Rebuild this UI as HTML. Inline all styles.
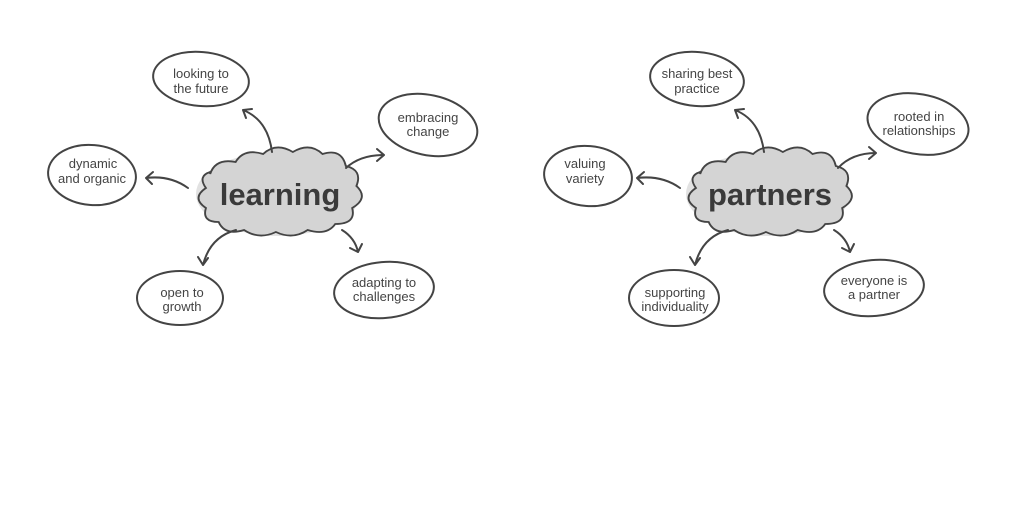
<!DOCTYPE html>
<html><head><style>
body{margin:0;background:#fff;}
svg{display:block}
text{font-family:"Liberation Sans",sans-serif;fill:#444;text-anchor:middle}
.s{font-size:13px}
.b{font-size:31px;font-weight:bold;fill:#3a3a3a}
.e{fill:none;stroke:#444;stroke-width:2}
.a{fill:none;stroke:#444;stroke-width:2;stroke-linecap:round;stroke-linejoin:round}
.c{fill:#d4d4d4;stroke:#444;stroke-width:1.8}
</style></head><body>
<svg width="1024" height="514" viewBox="0 0 1024 514">
<defs>
<g id="cloud">
<ellipse cx="0" cy="0" rx="82" ry="42" fill="#e2e2e2"/>
<path class="c" transform="scale(1.06,1)" d="M-64,-20 q5,-16 24,-12 q8,-14 26,-8 q12,-12 28,-2 q16,-10 28,2 q18,-6 22,12 q16,4 10,20 q12,12 -4,22 q4,16 -16,16 q-8,12 -26,6 q-14,10 -30,2 q-16,8 -30,-2 q-18,6 -24,-8 q-16,0 -12,-14 q-14,-10 0,-20 q-8,-12 4,-16z"/>
</g>
</defs>
<!-- left -->
<use href="#cloud" x="278" y="194"/>
<text class="b" x="280" y="205">learning</text>
<ellipse class="e" cx="201" cy="79" rx="48" ry="27" transform="rotate(5 201 79)"/>
<text class="s" x="201" y="78">looking to</text><text class="s" x="201" y="93">the future</text>
<ellipse class="e" cx="428" cy="125" rx="50" ry="30" transform="rotate(12 428 125)"/>
<text class="s" x="428" y="122">embracing</text><text class="s" x="428" y="136">change</text>
<ellipse class="e" cx="92" cy="175" rx="44" ry="30" transform="rotate(5 92 175)"/>
<text class="s" x="93" y="168">dynamic</text><text class="s" x="92" y="183">and organic</text>
<ellipse class="e" cx="180" cy="298" rx="43" ry="27"/>
<text class="s" x="182" y="297">open to</text><text class="s" x="182" y="311">growth</text>
<ellipse class="e" cx="384" cy="290" rx="50" ry="28" transform="rotate(-5 384 290)"/>
<text class="s" x="384" y="287">adapting to</text><text class="s" x="384" y="301">challenges</text>
<path class="a" d="M272,152 Q268,120 243,110 M243,110 l9,-1 M243,110 l3,8"/>
<path class="a" d="M346,168 Q360,155 384,155 M384,155 l-7,-6 M384,155 l-7,6"/>
<path class="a" d="M188,188 Q170,175 146,178 M146,178 l7,-6 M146,178 l6,6"/>
<path class="a" d="M236,230 Q210,237 203,265 M203,265 l-5,-8 M203,265 l5,-7"/>
<path class="a" d="M342,230 Q355,238 358,252 M358,252 l-8,-4 M358,252 l4,-8"/>
<!-- right -->
<use href="#cloud" x="768" y="194"/>
<text class="b" x="770" y="205">partners</text>
<ellipse class="e" cx="697" cy="79" rx="47" ry="27" transform="rotate(5 697 79)"/>
<text class="s" x="697" y="78">sharing best</text><text class="s" x="697" y="93">practice</text>
<ellipse class="e" cx="918" cy="124" rx="51" ry="30" transform="rotate(10 918 124)"/>
<text class="s" x="919" y="121">rooted in</text><text class="s" x="919" y="135">relationships</text>
<ellipse class="e" cx="588" cy="176" rx="44" ry="30" transform="rotate(5 588 176)"/>
<text class="s" x="585" y="168">valuing</text><text class="s" x="585" y="183">variety</text>
<ellipse class="e" cx="674" cy="298" rx="45" ry="28"/>
<text class="s" x="675" y="297">supporting</text><text class="s" x="675" y="311">individuality</text>
<ellipse class="e" cx="874" cy="288" rx="50" ry="28" transform="rotate(-5 874 288)"/>
<text class="s" x="874" y="285">everyone is</text><text class="s" x="874" y="299">a partner</text>
<path class="a" d="M764,152 Q760,120 735,110 M735,110 l9,-1 M735,110 l3,8"/>
<path class="a" d="M838,168 Q852,153 876,153 M876,153 l-7,-6 M876,153 l-7,6"/>
<path class="a" d="M680,188 Q662,175 637,178 M637,178 l7,-6 M637,178 l6,6"/>
<path class="a" d="M728,230 Q702,237 695,265 M695,265 l-5,-8 M695,265 l5,-7"/>
<path class="a" d="M834,230 Q847,238 850,252 M850,252 l-8,-4 M850,252 l4,-8"/>
</svg>
</body></html>
